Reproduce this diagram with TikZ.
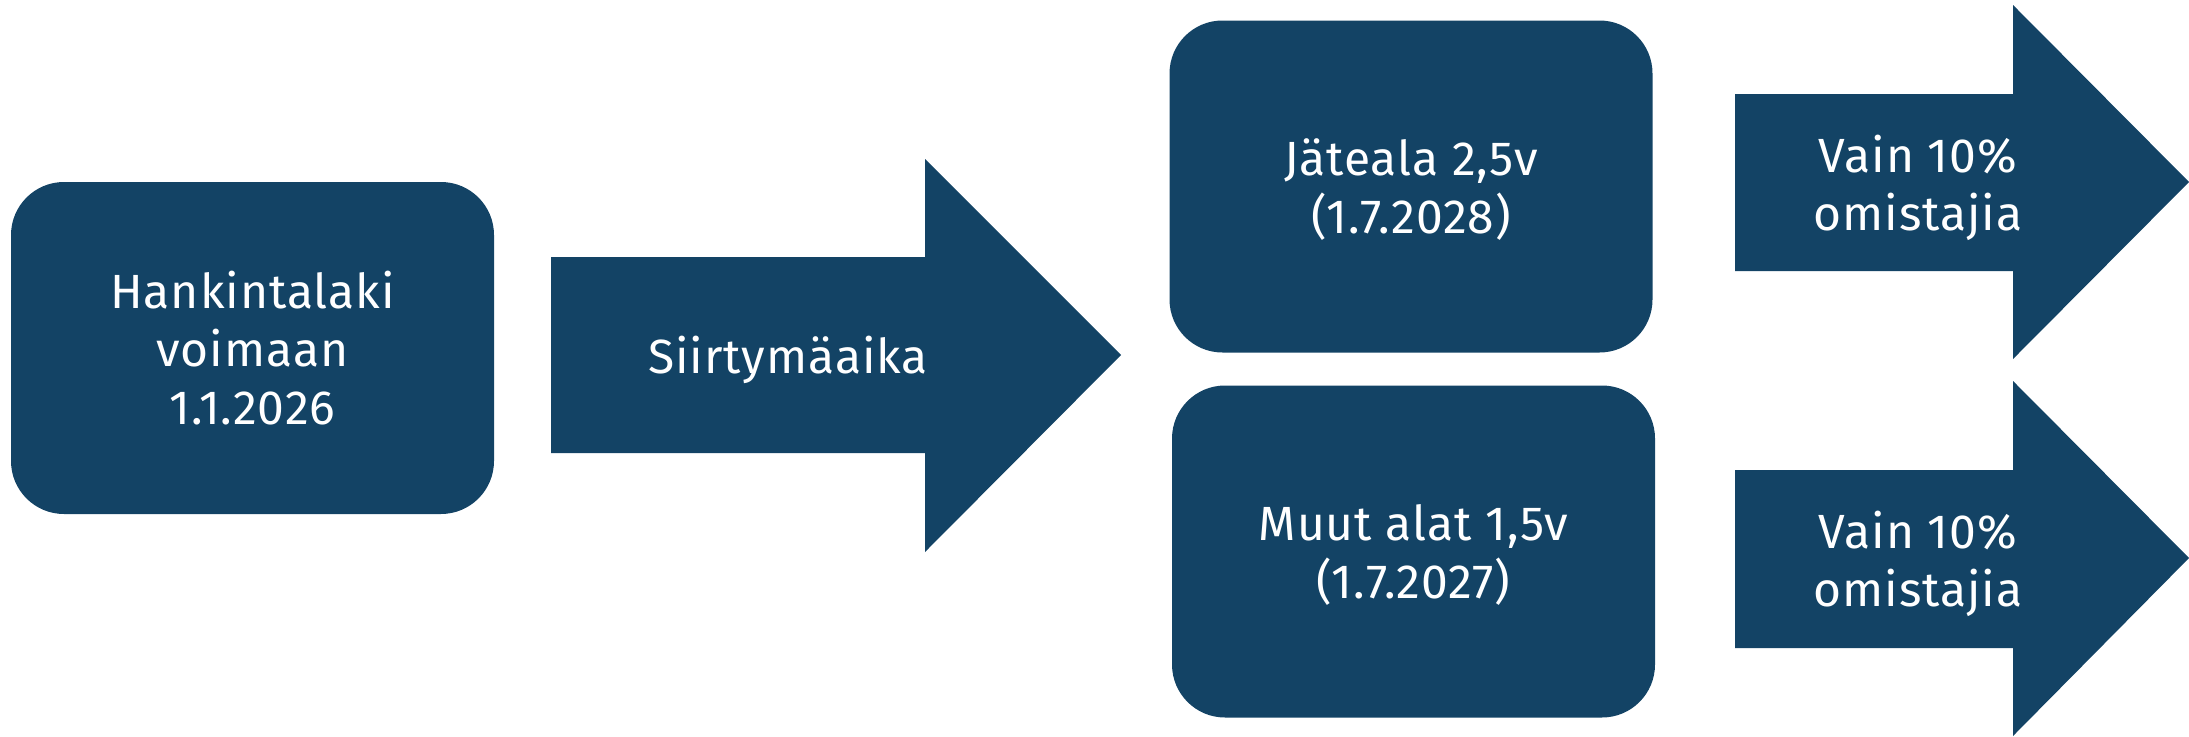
\documentclass[tikz,border=0pt]{standalone}
\usepackage{fontspec}
\setmainfont{Fira Sans}[LetterSpace=2]
\usetikzlibrary{positioning}
\definecolor{lakiblue}{RGB}{19,67,101}

\tikzset{
  lakitext/.style={text=white, align=center, inner sep=0pt, text depth=0pt,
    font=\fontsize{48}{58}\selectfont},
  lakibox/.style={lakitext, fill=lakiblue, rounded corners=53pt,
    minimum width=483pt, minimum height=332pt},
  lakiarrow/.style={fill=lakiblue}
}

\begin{document}
\begin{tikzpicture}[x=1pt,y=-1pt]
\useasboundingbox (0,0) rectangle (2189,736);

\node[lakibox] (hankinta) at (252.5,348) {Hankintalaki\\voimaan\\1.1.2026};

%siirtymaaika arrow
\fill[lakiarrow] (551,257) -- (925,257) -- (925,159) -- (1121,355) -- (925,552) -- (925,453) -- (551,453) -- cycle;
\node[lakitext] (siirtyma) at (788,355) {Siirtymäaika};

\node[lakibox] (jateala) at (1411,186.5) {Jäteala 2,5v\\(1.7.2028)};
\node[lakibox] (muut) at (1413.5,551.5) {Muut alat 1,5v\\(1.7.2027)};

%right arrows, top and bottom
\fill[lakiarrow] (1735,94) -- (2013,94) -- (2013,5) -- (2189,182) -- (2013,359) -- (2013,271) -- (1735,271) -- cycle;
\node[lakitext] (vainA) at (1918,183) {Vain 10\%\\omistajia};
\fill[lakiarrow] (1735,470) -- (2013,470) -- (2013,381) -- (2189,558) -- (2013,736) -- (2013,648) -- (1735,648) -- cycle;
\node[lakitext] (vainB) at (1918,559) {Vain 10\%\\omistajia};
\end{tikzpicture}
\end{document}
